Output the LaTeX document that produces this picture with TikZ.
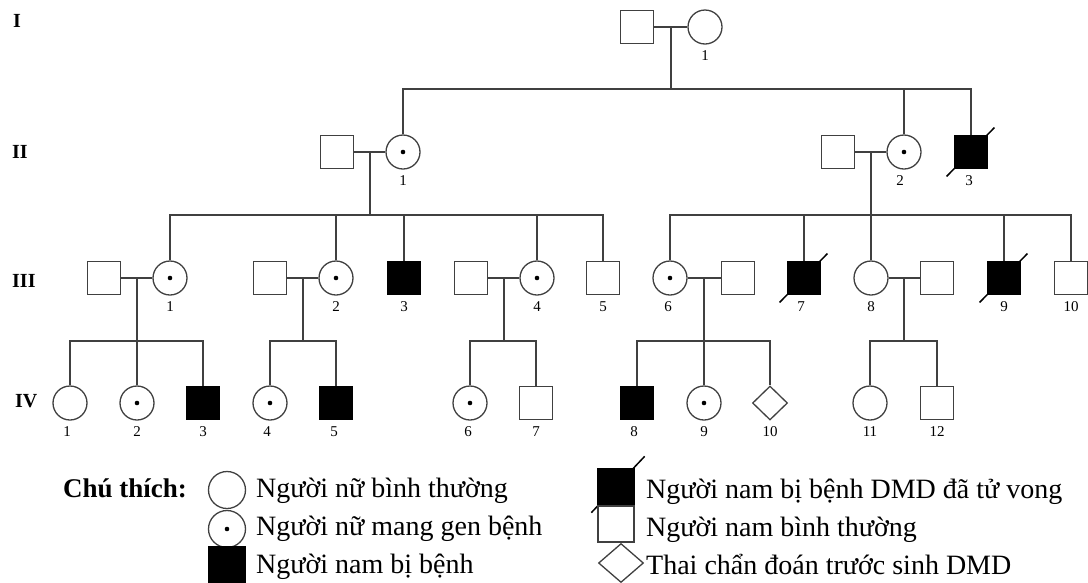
\documentclass[tikz,border=0pt]{standalone}
\usepackage{fontspec}
\setmainfont{Liberation Serif}
\usetikzlibrary{shapes.geometric,positioning,calc}
\tikzset{
  male/.style={rectangle, minimum size=33.5pt, inner sep=0pt, draw=black!75, line width=1.3pt},
  female/.style={circle, minimum size=34pt, inner sep=0pt, draw=black!75, line width=1.3pt},
  ill/.style={fill=black, draw=black},
  carrier/.style={path picture={\fill[black] (path picture bounding box.center) circle (2.3pt);}},
  unborn/.style={diamond, minimum width=35pt, minimum height=34pt, inner sep=0pt, draw=black!75, line width=1.3pt},
  line/.style={draw=black!75, line width=1.4pt},
  slash/.style={black, line width=1.5pt},
  every label/.style={font=\fontsize{15}{15}\selectfont, inner sep=0pt},
  label distance=6pt,
  gen/.style={font=\bfseries\fontsize{20}{20}\selectfont, anchor=west, inner sep=0pt},
  key/.style={font=\fontsize{28}{32}\selectfont, anchor=base west, inner sep=0pt}
}

\begin{document}
\begin{tikzpicture}[x=1pt, y=-1pt]
  \useasboundingbox (0,0) rectangle (1088,582);

  % generations
  \node[gen] (gI) at (13,21) {I};
  \node[gen] (gII) at (12,152) {II};
  \node[gen] (gIII) at (12,281) {III};
  \node[gen] (gIV) at (15,401) {IV};

  % I
  \node[male] (I1m) at (637,27) {};
  \node[female, label=below:1] (I1) at (705,27) {};

  % II
  \node[male] (II1m) at (337,152) {};
  \node[female, carrier, label=below:1] (II1) at (403,152) {};
  \node[male] (II2m) at (838,152) {};
  \node[female, carrier, label={[xshift=-4pt]below:2}] (II2) at (904,152) {};
  \node[male, ill, label={[xshift=-2pt]below:3}] (II3) at (971,152) {};

  % III
  \node[male] (III1m) at (104,278) {};
  \node[female, carrier, label=below:1] (III1) at (170,278) {};
  \node[male] (III2m) at (270,278) {};
  \node[female, carrier, label=below:2] (III2) at (336,278) {};
  \node[male, ill, label=below:3] (III3) at (404,278) {};
  \node[male] (III4m) at (471,278) {};
  \node[female, carrier, label=below:4] (III4) at (537,278) {};
  \node[male, label=below:5] (III5) at (603,278) {};
  \node[female, carrier, label={[xshift=-2pt]below:6}] (III6) at (670,278) {};
  \node[male] (III6m) at (738,278) {};
  \node[male, ill, label={[xshift=-3pt]below:7}] (III7) at (804,278) {};
  \node[female, label=below:8] (III8) at (871,278) {};
  \node[male] (III8m) at (937,278) {};
  \node[male, ill, label=below:9] (III9) at (1004,278) {};
  \node[male, label=below:10] (III10) at (1071,278) {};

  % IV
  \node[female, label={[xshift=-3pt]below:1}] (IV1) at (70,403) {};
  \node[female, carrier, label=below:2] (IV2) at (137,403) {};
  \node[male, ill, label=below:3] (IV3) at (203,403) {};
  \node[female, carrier, label={[xshift=-3pt]below:4}] (IV4) at (270,403) {};
  \node[male, ill, label={[xshift=-2pt]below:5}] (IV5) at (336,403) {};
  \node[female, carrier, label={[xshift=-2pt]below:6}] (IV6) at (470,403) {};
  \node[male, label=below:7] (IV7) at (536,403) {};
  \node[male, ill, label={[xshift=-3pt]below:8}] (IV8) at (637,403) {};
  \node[female, carrier, label=below:9] (IV9) at (704,403) {};
  \node[unborn, label=below:10] (IV10) at (770,403) {};
  \node[female, label=below:11] (IV11) at (870,403) {};
  \node[male, label=below:12] (IV12) at (937,403) {};

  % deceased
  \foreach \n in {II3,III7,III9}
    \draw[slash] ([shift={(-7,7)}]\n.south west) -- ([shift={(6,-7)}]\n.north east);

  % I -> II
  \draw[line] (I1m) -- (I1);
  \draw[line] ($(I1m)!.5!(I1)$) -- ++(0,62) coordinate (sI);
  \draw[line] (II1) -- (II1 |- sI) -- (II3 |- sI) -- (II3);
  \draw[line] (II2) -- (II2 |- sI);

  % II -> III
  \draw[line] (II1m) -- (II1);
  \draw[line] ($(II1m)!.5!(II1)$) -- ++(0,63) coordinate (sII1);
  \draw[line] (III1) -- (III1 |- sII1) -- (III5 |- sII1) -- (III5);
  \foreach \n in {III2,III3,III4}
    \draw[line] (\n) -- (\n |- sII1);
  \draw[line] (II2m) -- (II2);
  \draw[line] ($(II2m)!.5!(II2)$) -- ++(0,63) coordinate (sII2);
  \draw[line] (III6) -- (III6 |- sII2) -- (III10 |- sII2) -- (III10);
  \foreach \n in {III7,III8,III9}
    \draw[line] (\n) -- (\n |- sII2);

  % III -> IV
  \draw[line] (III1m) -- (III1);
  \draw[line] ($(III1m)!.5!(III1)$) -- ++(0,63) coordinate (sIII1);
  \draw[line] (IV1) -- (IV1 |- sIII1) -- (IV3 |- sIII1) -- (IV3);
  \draw[line] (IV2) -- (IV2 |- sIII1);
  \draw[line] (III2m) -- (III2);
  \draw[line] ($(III2m)!.5!(III2)$) -- ++(0,63) coordinate (sIII2);
  \draw[line] (IV4) -- (IV4 |- sIII2) -- (IV5 |- sIII2) -- (IV5);
  \draw[line] (III4m) -- (III4);
  \draw[line] ($(III4m)!.5!(III4)$) -- ++(0,63) coordinate (sIII4);
  \draw[line] (IV6) -- (IV6 |- sIII4) -- (IV7 |- sIII4) -- (IV7);
  \draw[line] (III6) -- (III6m);
  \draw[line] ($(III6)!.5!(III6m)$) -- ++(0,63) coordinate (sIII6);
  \draw[line] (IV8) -- (IV8 |- sIII6) -- (IV10 |- sIII6) -- (IV10);
  \draw[line] (IV9) -- (IV9 |- sIII6);
  \draw[line] (III8) -- (III8m);
  \draw[line] ($(III8)!.5!(III8m)$) -- ++(0,63) coordinate (sIII8);
  \draw[line] (IV11) -- (IV11 |- sIII8) -- (IV12 |- sIII8) -- (IV12);

  % key
  \node[key, font=\fontsize{27}{32}\selectfont\bfseries] (keyhead) at (63,497) {Chú thích:};
  \node[female, minimum size=37pt] (kf) at (227,490) {};
  \node[female, carrier, minimum size=37pt] (kc) at (227,529) {};
  \node[male, ill, minimum size=37pt] (ka) at (227,565) {};
  \node[key] (kft) at (256,497) {Người nữ bình thường};
  \node[key] (kct) at (256,535) {Người nữ mang gen bệnh};
  \node[key] (kat) at (256,573) {Người nam bị bệnh};
  \node[male, ill, minimum size=36pt] (kd) at (616,487) {};
  \draw[slash] ([shift={(-6,7)}]kd.south west) -- ([shift={(10,-12)}]kd.north east);
  \node[male, minimum size=36pt] (km) at (616,524) {};
  \node[unborn, minimum width=45pt, minimum height=39pt] (ku) at (621,563) {};
  \node[key] (kdt) at (646,498) {Người nam bị bệnh DMD đã tử vong};
  \node[key] (kmt) at (646,536) {Người nam bình thường};
  \node[key] (kut) at (646,574) {Thai chẩn đoán trước sinh DMD};
\end{tikzpicture}
\end{document}
